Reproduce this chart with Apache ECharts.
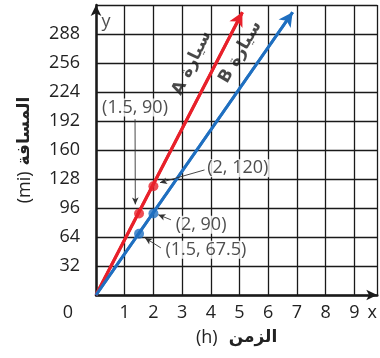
<!DOCTYPE html>
<html lang="ar">
<head>
    <meta charset="UTF-8">
    <title>المسافة والزمن</title>
    <script src="https://cdn.jsdelivr.net/npm/echarts@6/dist/echarts.min.js"></script>
</head>
<style>
html,body{margin:0;padding:0;background-color:#fff}
#chartBox{width:380px;height:358px}
</style>
<body>
    <div id="chartBox"></div>
</body>
<script>
// 数据
const carA = [[0, 0], [5.1, 312]];
const carB = [[0, 0], [6.85, 312]];
const pointsA = [[1.5, 90], [2, 120]];
const pointsB = [[1.5, 67.5], [2, 90]];
const carNames = ['A سيارة', 'B سيارة'];
const carNamePos = [[3.34, 256], [5.03, 268]];
const carNameAngle = [64, 60];
const annoLabels = ['(1.5, 90)', '(2, 120)', '(2, 90)', '(1.5, 67.5)'];
const annoPos = [[1.36, 207], [4.94, 140], [3.66, 77.5], [3.83, 50]];
const leaderFrom = [[1.36, 194], [3.78, 138], [2.61, 83], [2.26, 52]];
const leaderTo = [[1.37, 100], [2.23, 124], [2.17, 88.6], [1.71, 63]];
const leaderCurve = [0, 0, 0.2, 0.35];

const RED = '#e8202a';
const BLUE = '#1f6fc0';
const INK = '#1a1a1a';
const numFont = 'Open Sans';
const arFont = 'DejaVu Sans';

function carLine(data, color) {
    return {
        type: 'line',
        data: data,
        showSymbol: false,
        lineStyle: {color: color, width: 3},
        z: 3,
        markLine: {
            silent: true,
            symbol: ['none', 'arrow'],
            symbolSize: [11, 14],
            label: {show: false},
            lineStyle: {color: color, width: 3, type: 'solid'},
            data: [[{coord: data[0]}, {coord: data[data.length - 1]}]]
        }
    };
}

// 轴标题：括号部分常规，阿拉伯文加粗
function titleRich(gap) {
    return {
        u: {fontFamily: numFont, fontSize: 18, color: '#222', padding: [0, gap, 0, 0]},
        w: {fontFamily: arFont, fontWeight: 'bold', fontSize: 17, color: '#222'}
    };
}

function generateChartOption() {
    return {
        animation: false,
        grid: {left: 96, right: 2.5, top: 5, bottom: 63},
        xAxis: {
            type: 'value',
            min: 0,
            max: 9.8,
            interval: 1,
            name: '{u|(h)}{w|الزمن}',
            nameLocation: 'middle',
            nameGap: 34,
            nameTextStyle: {rich: titleRich(11)},
            axisLine: {
                show: true,
                symbol: ['none', 'arrow'],
                symbolSize: [8, 11],
                lineStyle: {color: INK, width: 2.5}
            },
            axisTick: {show: false},
            splitLine: {show: true, lineStyle: {color: INK, width: 1.3}},
            axisLabel: {
                margin: 9,
                fontSize: 18,
                fontFamily: numFont,
                color: '#222',
                showMaxLabel: true,
                showMinLabel: true,
                formatter: function (v) {
                    if (v === 0) return '{z|0}';
                    if (v > 9.5) return '{x|x}';
                    return Number.isInteger(v) ? String(v) : '';
                },
                rich: {
                    z: {fontSize: 18, fontFamily: numFont, color: '#222', padding: [0, 56, 0, 0]},
                    x: {fontSize: 18, fontFamily: numFont, color: '#222', padding: [0, 10, 0, 0]}
                }
            }
        },
        yAxis: {
            type: 'value',
            min: 0,
            max: 320,
            interval: 32,
            name: '{u|(mi)}{w|المسافة}',
            nameLocation: 'middle',
            nameRotate: 90,
            nameGap: 62,
            nameTextStyle: {rich: titleRich(6)},
            axisLine: {
                show: true,
                symbol: ['none', 'arrow'],
                symbolSize: [8, 11],
                lineStyle: {color: INK, width: 2.5}
            },
            axisTick: {show: false},
            splitLine: {show: true, lineStyle: {color: INK, width: 1.3}},
            axisLabel: {
                margin: 16,
                fontSize: 18,
                fontFamily: numFont,
                color: '#222',
                formatter: function (v) {
                    return (v === 0 || v === 320) ? '' : String(v);
                }
            }
        },
        series: [
            carLine(carA, RED),
            carLine(carB, BLUE),
            {
                type: 'scatter',
                data: pointsA,
                symbolSize: 10,
                itemStyle: {color: RED},
                z: 4
            },
            {
                type: 'scatter',
                data: pointsB,
                symbolSize: 10,
                itemStyle: {color: BLUE},
                z: 4
            },
            // 车名
            {
                type: 'scatter',
                symbolSize: 0,
                silent: true,
                z: 5,
                data: carNamePos.map((p, i) => ({
                    value: p,
                    name: carNames[i],
                    label: {rotate: carNameAngle[i]}
                })),
                label: {
                    show: true,
                    position: 'inside',
                    formatter: '{b}',
                    fontFamily: arFont,
                    fontWeight: 'bold',
                    fontSize: 17,
                    color: '#1a1a1a'
                }
            },
            // 坐标标注
            {
                type: 'scatter',
                symbolSize: 0,
                silent: true,
                z: 6,
                data: annoPos.map((p, i) => ({value: p, name: annoLabels[i]})),
                label: {
                    show: true,
                    position: 'inside',
                    formatter: '{b}',
                    fontFamily: numFont,
                    fontSize: 18,
                    color: '#222',
                    backgroundColor: '#fff',
                    padding: [0, 1]
                },
                markLine: {
                    silent: true,
                    symbol: ['none', 'arrow'],
                    symbolSize: [5, 7],
                    label: {show: false},
                    lineStyle: {color: '#333', width: 0.9, type: 'solid'},
                    data: leaderFrom.map((p, i) => [
                        {coord: p, lineStyle: {curveness: leaderCurve[i]}},
                        {coord: leaderTo[i]}
                    ])
                }
            },
            // y 轴字母
            {
                type: 'scatter',
                symbolSize: 0,
                silent: true,
                data: [{value: [0.35, 301], name: 'y'}],
                label: {
                    show: true,
                    position: 'inside',
                    formatter: '{b}',
                    fontFamily: numFont,
                    fontSize: 18,
                    color: '#222'
                }
            }
        ]
    };
}

let chartObj = echarts.init(document.getElementById('chartBox'));
chartObj.setOption(generateChartOption(), true);
</script>
</html>
